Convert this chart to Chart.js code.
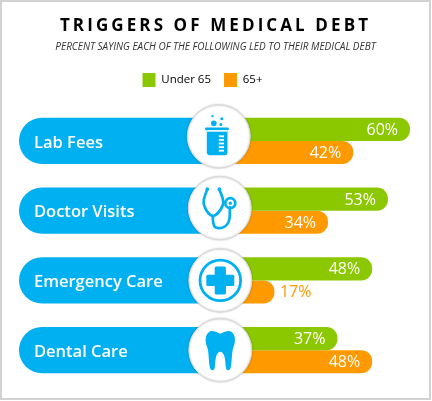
<!DOCTYPE html>
<html>
<head>
<meta charset="utf-8">
<script src="https://cdn.jsdelivr.net/npm/chart.js@4"></script>
<style>
  html, body { margin: 0; padding: 0; background: #fff; }
  #frame { position: absolute; left: 0; top: 0; width: 431px; height: 400px; box-sizing: border-box; border: 2px solid #d2d2d2; }
  #myChart { position: absolute; left: 0; top: 0; }
</style>
</head>
<body>
<div id="frame"></div>
<canvas id="myChart" width="432" height="401"></canvas>
<script>
var categories = ["Lab Fees", "Doctor Visits", "Emergency Care", "Dental Care"];
var under65 = [60, 53, 48, 37];
var over65 = [42, 34, 17, 48];
var seriesNames = ["Under 65", "65+"];
var titleText = "TRIGGERS OF MEDICAL DEBT";
var subtitleText = "PERCENT SAYING EACH OF THE FOLLOWING LED TO THEIR MEDICAL DEBT";

var BLUE = "#00b0f0", GREEN = "#8cc800", ORANGE = "#ff9900";
var FONT = "'Open Sans'";

// the blue pills sit left of zero, the percent axis starts there
var pillStart = -64;
var pills = categories.map(function () { return [pillStart, 0]; });

// little nudges so the circles land where they do in the picture
var circleNudge = [[-2, -4.5], [-1, -2.5], [-0.5, 0], [-0.5, 0]];

function beaker(ctx) {
    ctx.fillStyle = BLUE;
    ctx.beginPath(); ctx.roundRect(-13.7, -9, 23.7, 2.8, 1); ctx.fill();
    ctx.beginPath(); ctx.roundRect(-12, -7, 20.7, 25.8, [0, 0, 3, 3]); ctx.fill();
    ctx.fillStyle = "#fff";
    ctx.fillRect(-12, -6.3, 20.7, 1.6);
    for (var i = 0; i < 5; i++) ctx.fillRect(0, -1 + i * 3.6, 5.2, 1.8);
    ctx.fillStyle = BLUE;
    [[-5, -13, 2.8], [2, -12, 1.5], [-6.3, -20.3, 1.2], [3, -17.7, 1.5]].forEach(function (b) {
        ctx.beginPath(); ctx.arc(b[0], b[1], b[2], 0, Math.PI * 2); ctx.fill();
    });
}

function stethoscope(ctx) {
    ctx.strokeStyle = BLUE;
    ctx.fillStyle = BLUE;
    ctx.lineWidth = 2.7;
    ctx.lineCap = "round";
    ctx.beginPath();
    ctx.moveTo(-12.5, -19);
    ctx.bezierCurveTo(-15, -12, -18, -6, -15, -1);
    ctx.bezierCurveTo(-13, 4, -10, 7, -7, 8);
    ctx.bezierCurveTo(-3, 7, 1, 2, 3, -3);
    ctx.bezierCurveTo(5, -8, 1, -14, -0.5, -19);
    ctx.stroke();
    ctx.beginPath();
    ctx.moveTo(-7, 8);
    ctx.bezierCurveTo(-7, 20, -4, 20, -1, 20);
    ctx.bezierCurveTo(6, 20, 10, 15, 10, 6);
    ctx.lineTo(10, -1);
    ctx.stroke();
    [[-12.5, -19], [-0.5, -19]].forEach(function (p) {
        ctx.beginPath(); ctx.arc(p[0], p[1], 1.8, 0, Math.PI * 2); ctx.fill();
    });
    ctx.beginPath(); ctx.arc(10.5, -5, 5, 0, Math.PI * 2); ctx.stroke();
    ctx.beginPath(); ctx.arc(10.5, -5, 1.7, 0, Math.PI * 2); ctx.fill();
}

function medCross(ctx) {
    ctx.strokeStyle = BLUE;
    ctx.fillStyle = BLUE;
    ctx.lineWidth = 2.8;
    ctx.beginPath(); ctx.arc(0, 0, 20.3, 0, Math.PI * 2); ctx.stroke();
    ctx.beginPath(); ctx.roundRect(-14, -5.6, 28, 11.2, 1.5); ctx.fill();
    ctx.beginPath(); ctx.roundRect(-5.6, -14, 11.2, 28, 1.5); ctx.fill();
}

function tooth(ctx) {
    ctx.fillStyle = BLUE;
    ctx.beginPath();
    ctx.moveTo(0, -16.5);
    ctx.bezierCurveTo(-4, -18, -8, -20, -11, -18.5);
    ctx.bezierCurveTo(-15, -16, -15.5, -9, -13.5, -4);
    ctx.bezierCurveTo(-11, 2, -12, 10, -10.5, 17);
    ctx.bezierCurveTo(-9.5, 21, -6, 21, -5.5, 17);
    ctx.bezierCurveTo(-5, 12, -5, 2, 0, 1.5);
    ctx.bezierCurveTo(5, 2, 5, 12, 5.5, 17);
    ctx.bezierCurveTo(6, 21, 9.5, 21, 10.5, 17);
    ctx.bezierCurveTo(12, 10, 11, 2, 13.5, -4);
    ctx.bezierCurveTo(15.5, -9, 15, -16, 11, -18.5);
    ctx.bezierCurveTo(8, -20, 4, -18, 0, -16.5);
    ctx.fill();
}
var icons = [beaker, stethoscope, medCross, tooth];

var headerPlugin = {
    id: "header",
    afterLayout: function (chart) {
        // legend sits left of the middle and higher than the layout wants
        chart.legend.left -= 12;
        chart.legend.right -= 12;
        chart.legend.top -= 9;
        chart.legend.bottom -= 9;
    },
    afterDraw: function (chart) {
        var ctx = chart.ctx;
        ctx.save();
        ctx.textAlign = "center";
        ctx.textBaseline = "middle";
        ctx.fillStyle = "#000";
        ctx.font = "bold 17px " + FONT;
        ctx.letterSpacing = "3.1px";
        ctx.fillText(titleText, 215.5, 26);
        ctx.fillStyle = "#333";
        ctx.font = "italic 10px " + FONT;
        ctx.letterSpacing = "0px";
        ctx.fillText(subtitleText, 215.5, 47.5);
        ctx.restore();
    }
};

var circlePlugin = {
    id: "circles",
    afterDatasetsDraw: function (chart) {
        var ctx = chart.ctx;
        var x0 = chart.scales.x.getPixelForValue(0);
        categories.forEach(function (c, i) {
            var cx = x0 + circleNudge[i][0];
            var cy = chart.scales.y.getPixelForValue(i) + circleNudge[i][1];
            ctx.save();
            ctx.shadowColor = "rgba(0,0,0,0.25)";
            ctx.shadowBlur = 2;
            ctx.fillStyle = "#fff";
            ctx.strokeStyle = "#dcdcdc";
            ctx.lineWidth = 1;
            ctx.beginPath();
            ctx.arc(cx, cy, 31.5, 0, Math.PI * 2);
            ctx.fill();
            ctx.stroke();
            ctx.restore();
            ctx.save();
            ctx.translate(cx, cy);
            icons[i](ctx);
            ctx.restore();
        });
    }
};

var valueLabels = {
    id: "valueLabels",
    afterDatasetsDraw: function (chart) {
        var ctx = chart.ctx;
        ctx.save();
        ctx.font = "16px " + FONT;
        ctx.textBaseline = "middle";
        [1, 2].forEach(function (ds) {
            chart.getDatasetMeta(ds).data.forEach(function (bar, i) {
                var v = chart.data.datasets[ds].data[i];
                var outside = v < 20;
                ctx.textAlign = outside ? "left" : "right";
                ctx.fillStyle = outside ? ORANGE : "#fff";
                ctx.fillText(v + "%", outside ? bar.x + 5.5 : bar.x - 12, bar.y + 1);
            });
        });
        ctx.restore();
    }
};

new Chart("myChart", {
    type: "bar",
    data: {
        labels: categories,
        datasets: [{
            label: "pill",
            data: pills,
            backgroundColor: BLUE,
            grouped: false,
            barPercentage: 1,
            categoryPercentage: 0.66,
            borderRadius: { topLeft: 23, bottomLeft: 23, topRight: 0, bottomRight: 0 },
            borderSkipped: false
        }, {
            label: seriesNames[0],
            data: under65,
            backgroundColor: GREEN,
            barPercentage: 1,
            categoryPercentage: 0.66,
            borderRadius: { topRight: 11, bottomRight: 11, topLeft: 0, bottomLeft: 0 },
            borderSkipped: false
        }, {
            label: seriesNames[1],
            data: over65,
            backgroundColor: ORANGE,
            barPercentage: 1,
            categoryPercentage: 0.66,
            borderRadius: { topRight: 11, bottomRight: 11, topLeft: 0, bottomLeft: 0 },
            borderSkipped: false
        }]
    },
    options: {
        indexAxis: "y",
        responsive: false,
        animation: false,
        layout: { padding: { top: 69, left: 19, right: 22, bottom: 16 } },
        scales: {
            x: { display: false, min: pillStart, max: 60 },
            y: {
                afterFit: function (scale) {
                    // labels live inside the pills, they need no room of their own
                    scale.width = 0;
                    scale.paddingTop = 0;
                    scale.paddingBottom = 0;
                },
                border: { display: false },
                grid: { display: false },
                ticks: {
                    z: 1,
                    mirror: true,
                    padding: 15,
                    labelOffset: 2,
                    color: "#fff",
                    font: { family: "Open Sans", size: 16.5, weight: "600" }
                }
            }
        },
        plugins: {
            tooltip: { enabled: false },
            legend: {
                position: "top",
                labels: {
                    filter: function (item) { return item.datasetIndex > 0; },
                    boxWidth: 13,
                    boxHeight: 14,
                    padding: 13,
                    color: "#000",
                    font: { family: "Open Sans", size: 11.5 }
                }
            }
        }
    },
    plugins: [headerPlugin, circlePlugin, valueLabels]
});
</script>
</body>
</html>
